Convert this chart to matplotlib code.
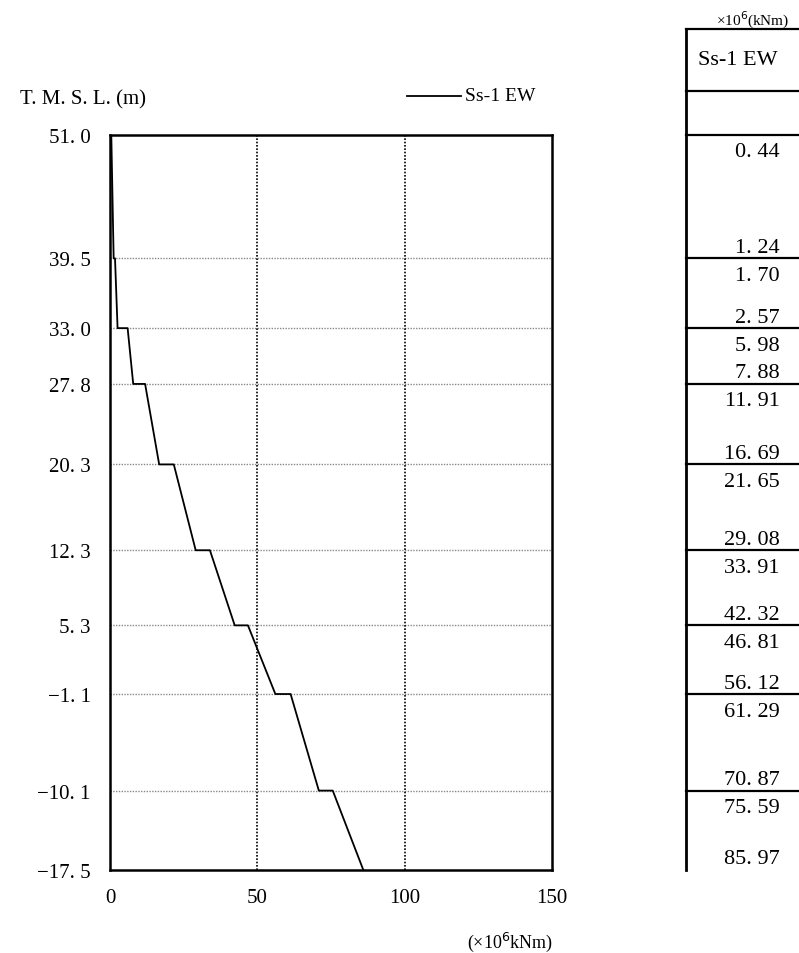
import matplotlib
matplotlib.use("Agg")
import matplotlib.pyplot as plt
import matplotlib.transforms as mtransforms

plt.rcParams['font.family'] = ['Liberation Serif', 'DejaVu Serif']

# elevations (T.M.S.L., m) of the floor levels, top to bottom
levels = [51.0, 39.5, 33.0, 27.8, 20.3, 12.3, 5.3, -1.1, -10.1, -17.5]
# bending moment at top and bottom of each storey (x10^6 kNm)
m_top = [0.44, 1.70, 5.98, 11.91, 21.65, 33.91, 46.81, 61.29, 75.59]
m_bot = [1.24, 2.57, 7.88, 16.69, 29.08, 42.32, 56.12, 70.87, 85.97]
series_name = "Ss-1 EW"
x_ticks = [0, 50, 100, 150]


def fmt(v, nd):
    s = f"{v:.{nd}f}".replace(".", ". ")
    return s.replace("-", "\u2212")


# build the stepped line from top / bottom values
xs, ys = [], []
for i in range(len(m_top)):
    xs += [m_top[i], m_bot[i]]
    ys += [levels[i], levels[i + 1]]

fig = plt.figure(figsize=(7.99, 9.54), dpi=100)
ax = fig.add_axes([110 / 799, 83 / 954, 442 / 799, 735 / 954])

ax.plot(xs, ys, color="black", lw=1.3, label=series_name, zorder=3)
ax.set_xlim(0, 150)
ax.set_ylim(levels[-1], levels[0])

ax.set_xticks(x_ticks)
ax.set_xticklabels([str(t) for t in x_ticks], fontsize=15)
ax.set_yticks(levels)
ax.set_yticklabels([fmt(v, 1) for v in levels], fontsize=15)
ax.tick_params(length=0)
ax.tick_params(axis="y", pad=14)
ax.tick_params(axis="x", pad=13)

for v in levels[1:-1]:
    ax.axhline(v, color="#888888", lw=1.0, ls=(0, (1, 1)), zorder=1)
for t in x_ticks[1:-1]:
    ax.axvline(t, color="black", lw=1.2, ls=(0, (1, 1)), zorder=1)
for sp in ax.spines.values():
    sp.set_linewidth(1.8)

fig.text(20 / 799, 1 - 100 / 954, "T. M. S. L. (m)", fontsize=15, va="center", ha="left")
fig.text(510 / 799, 1 - 942 / 954, "(\u00d710$^6$kNm)", fontsize=13, va="center", ha="center")

# legend drawn by hand at the upper right of the plot
fig.add_artist(plt.Line2D([407 / 799, 461 / 799], [1 - 97 / 954] * 2, color="black", lw=1.3))
fig.text(465 / 799, 1 - 97 / 954, series_name, fontsize=14, va="center", ha="left")

# table to the right, rows aligned with the elevations
tr = mtransforms.blended_transform_factory(fig.transFigure, ax.transData)
px_per_m = 735 / (levels[0] - levels[-1])
y_head_top = levels[0] + 106 / px_per_m
y_head_bot = levels[0] + 44 / px_per_m
x_left = 686 / 799
x_right = 1.0
x_num = 780 / 799

line_kw = dict(color="black", transform=tr, clip_on=False)
fig.add_artist(plt.Line2D([x_left, x_left], [levels[-1], y_head_top], lw=2.0, **line_kw))
for y in [y_head_top, y_head_bot] + levels[:-1]:
    fig.add_artist(plt.Line2D([x_left, x_right], [y, y], lw=1.6, **line_kw))

fig.text(753 / 799, y_head_top + 10 / px_per_m, "\u00d710$^6$(kNm)", fontsize=11,
         ha="center", va="center", transform=tr)
fig.text(738 / 799, (y_head_top + y_head_bot) / 2, series_name, fontsize=16,
         ha="center", va="center", transform=tr)

for i in range(len(m_top)):
    fig.text(x_num, levels[i] - 17 / px_per_m, fmt(m_top[i], 2), fontsize=16,
             ha="right", va="center", transform=tr)
    fig.text(x_num, levels[i + 1] + 11 / px_per_m, fmt(m_bot[i], 2), fontsize=16,
             ha="right", va="center", transform=tr)

fig.savefig("out.png", dpi=100)
